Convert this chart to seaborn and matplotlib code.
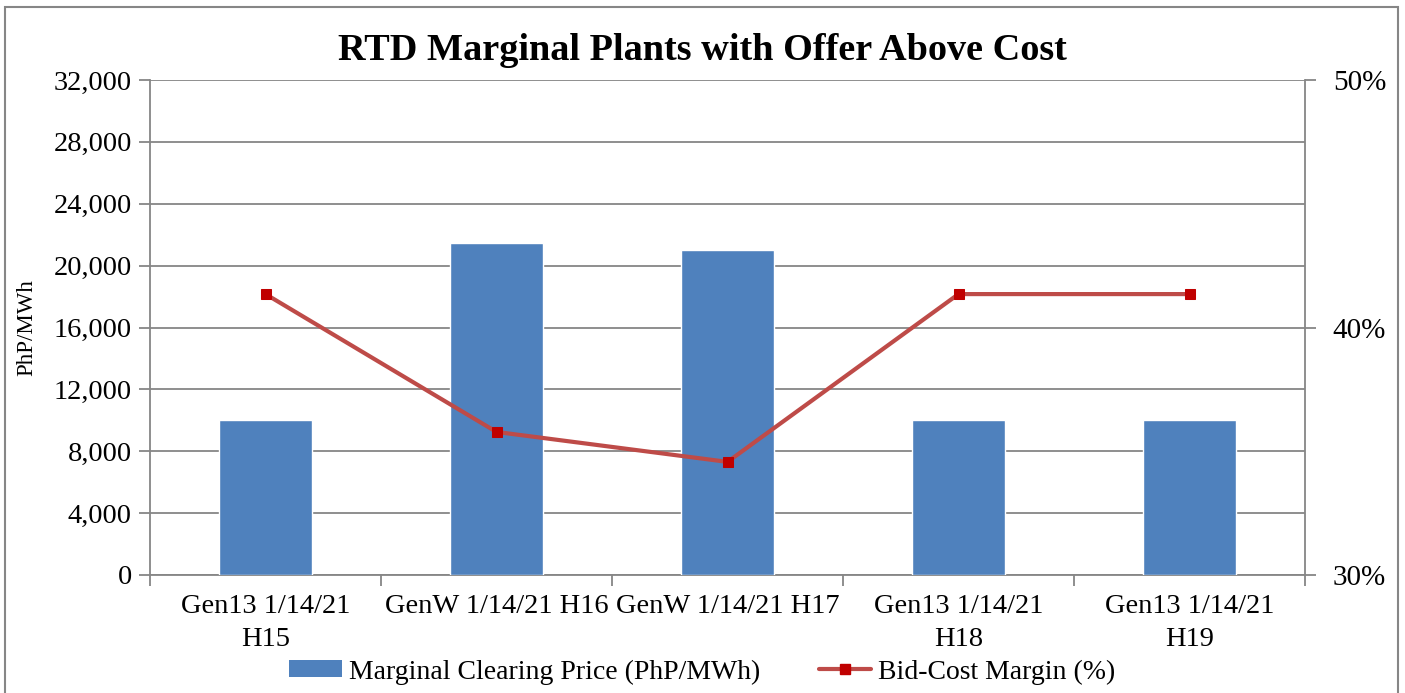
import numpy as np
import pandas as pd
import matplotlib
matplotlib.use("Agg")
import matplotlib.pyplot as plt
import matplotlib.ticker as mticker
from matplotlib.patches import Rectangle, Patch
from matplotlib.lines import Line2D
import seaborn as sns

# data
categories = ["Gen13 1/14/21\nH15", "GenW 1/14/21 H16", "GenW 1/14/21 H17",
              "Gen13 1/14/21\nH18", "Gen13 1/14/21\nH19"]
clearing_price = [10050, 21450, 21000, 10050, 10050]
bid_cost_margin = [0.4135, 0.3578, 0.3457, 0.4135, 0.4135]

bar_label = "Marginal Clearing Price (PhP/MWh)"
line_label = "Bid-Cost Margin (%)"

sns.set_style("white")
plt.rcParams['font.family'] = ['Liberation Serif', 'DejaVu Serif']
plt.rcParams['text.color'] = 'black'
plt.rcParams['axes.labelcolor'] = 'black'
plt.rcParams['xtick.color'] = 'black'
plt.rcParams['ytick.color'] = 'black'

bar_color = "#4F81BD"
line_color = "#BE4B48"
marker_color = "#C00000"
grid_color = "#868686"

df = pd.DataFrame({"pos": np.arange(len(categories)), "cat": categories,
                   "price": clearing_price, "margin": bid_cost_margin})

fig = plt.figure(figsize=(14.05, 6.93), dpi=100)
ax = fig.add_axes([150 / 1405, 1 - 575 / 693, 1155 / 1405, 495 / 693])

sns.barplot(data=df, x="cat", y="price", color=bar_color, width=0.4,
            saturation=1, ax=ax, zorder=3)
ax.set_xlim(-0.5, len(categories) - 0.5)
ax.set_ylim(0, 32000)
ax.set_yticks(np.arange(0, 32001, 4000))
ax.yaxis.set_major_formatter(mticker.StrMethodFormatter("{x:,.0f}"))
ax.grid(axis="y", color=grid_color, lw=1.3, zorder=0)
ax.set_axisbelow(True)
ax.set_xlabel("")
ax.set_ylabel("PhP/MWh", fontsize=16.5, labelpad=12)

ax.set_xticks(np.arange(len(categories)))
ax.set_xticklabels(categories, fontsize=20.5, linespacing=1.38)
ax.set_xticks(np.arange(-0.5, len(categories)), minor=True)
ax.tick_params(axis="x", which="major", length=0, pad=14)
ax.tick_params(axis="x", which="minor", length=8, width=1.3, color=grid_color,
               direction="out", bottom=True)
ax.tick_params(axis="y", length=8, width=1.3, color=grid_color, direction="out",
               left=True, labelsize=20.5, pad=5, labelcolor="black")

for side in ["left", "bottom", "right"]:
    ax.spines[side].set_color(grid_color)
    ax.spines[side].set_linewidth(1.3)
ax.spines["top"].set_visible(False)

ax2 = ax.twinx()
sns.lineplot(data=df, x="pos", y="margin", color=line_color, lw=3, marker="s",
             markersize=7, markerfacecolor=marker_color, markeredgecolor=marker_color,
             ax=ax2, zorder=4)
ax2.set_ylim(0.30, 0.50)
ax2.set_yticks([0.30, 0.40, 0.50])
ax2.yaxis.set_major_formatter(mticker.PercentFormatter(1.0, decimals=0))
ax2.tick_params(axis="y", length=8, width=1.3, color=grid_color, direction="out",
                right=True, labelsize=21, pad=12, labelcolor="black")
ax2.set_ylabel("")
ax2.set_xlabel("")
for side in ["left", "bottom", "right", "top"]:
    ax2.spines[side].set_visible(False)
ax2.set_xlim(-0.5, len(categories) - 0.5)

fig.text(0.5, 1 - 50 / 693, "RTD Marginal Plants with Offer Above Cost",
         ha="center", va="center", fontsize=27.5, fontweight="bold", color="black")

handles = [Patch(facecolor=bar_color, edgecolor="none"),
           Line2D([0], [0], color=line_color, lw=3, marker="s", markersize=7,
                  markerfacecolor=marker_color, markeredgecolor=marker_color)]
fig.legend(handles, [bar_label, line_label], loc="center",
           bbox_to_anchor=(0.5, 1 - 672 / 693), ncol=2, frameon=False,
           fontsize=20, handlelength=1.9, handleheight=0.55, handletextpad=0.25,
           columnspacing=2.1)

fig.patches.append(Rectangle((5 / 1405, -0.05), 1393 / 1405, 1.05 - 7 / 693,
                             transform=fig.transFigure, fill=False,
                             edgecolor=grid_color, lw=1.5, clip_on=False))

fig.savefig("out.png", dpi=100)
